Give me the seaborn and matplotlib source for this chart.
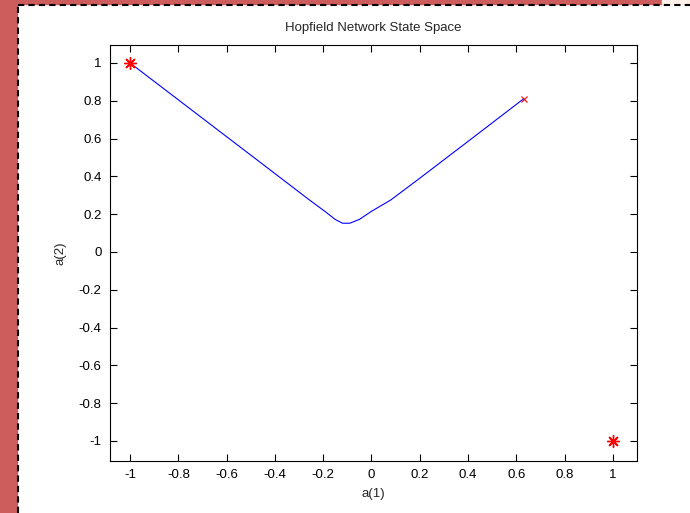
import matplotlib
matplotlib.use('Agg')
import matplotlib.pyplot as plt
import seaborn as sns
import pandas as pd
from matplotlib.patches import Rectangle
from matplotlib.lines import Line2D

# trajectory of the network state
traj_a1 = [-1.0, -0.8, -0.6, -0.4, -0.26, -0.19, -0.15, -0.12, -0.09, -0.05, 0.0, 0.08, 0.2, 0.4, 0.63]
traj_a2 = [1.0, 0.805, 0.61, 0.415, 0.278, 0.212, 0.172, 0.152, 0.152, 0.172, 0.215, 0.275, 0.39, 0.585, 0.81]

# stable points and end point
stable_a1 = [-1.0, 1.0]
stable_a2 = [1.0, -1.0]
end_a1 = [0.63]
end_a2 = [0.81]

ticks = [-1, -0.8, -0.6, -0.4, -0.2, 0, 0.2, 0.4, 0.6, 0.8, 1]
tick_labels = ['-1', '-0.8', '-0.6', '-0.4', '-0.2', '0', '0.2', '0.4', '0.6', '0.8', '1']

sns.set_style('white')
plt.rcParams['font.family'] = ['Liberation Sans', 'DejaVu Sans']

df = pd.DataFrame({'a1': traj_a1, 'a2': traj_a2})

fig = plt.figure(figsize=(6.9, 5.13), dpi=100)
ax = fig.add_axes([110 / 690, 1 - 461 / 513, 527 / 690, 416 / 513])

sns.lineplot(data=df, x='a1', y='a2', sort=False, color='#0000ff', linewidth=0.8, ax=ax)
ax.plot(stable_a1, stable_a2, linestyle='none', marker=(8, 2, 0), color='red', markersize=9, markeredgewidth=1.0)
ax.plot(end_a1, end_a2, linestyle='none', marker='x', color='red', markersize=5, markeredgewidth=0.8)

ax.set_xlim(-1.083, 1.1)
ax.set_ylim(-1.106, 1.095)
ax.set_xticks(ticks)
ax.set_xticklabels(tick_labels)
ax.set_yticks(ticks)
ax.set_yticklabels(tick_labels)
ax.tick_params(direction='in', length=5, width=0.8, top=True, right=True,
               bottom=True, left=True, labelsize=9.5, colors='black', pad=6)
for s in ax.spines.values():
    s.set_color('black')
    s.set_linewidth(0.8)

ax.set_title('Hopfield Network State Space', fontsize=9.5, pad=10)
ax.set_xlabel('a(1)', fontsize=9.5, labelpad=5)
ax.set_ylabel('a(2)', fontsize=9.5, labelpad=9)

# screenshot frame decoration
red = '#cd5c5c'
fig.patches.append(Rectangle((0, 0), 17 / 690, 1, transform=fig.transFigure, color=red, zorder=0))
fig.patches.append(Rectangle((0, 1 - 4 / 513), 662 / 690, 4 / 513, transform=fig.transFigure, color=red, zorder=0))
fig.patches.append(Rectangle((662 / 690, 1 - 4 / 513), 28 / 690, 4 / 513, transform=fig.transFigure, color='#fdf0e8', zorder=0))
fig.lines.append(Line2D([18 / 690, 18 / 690], [0, 1 - 5 / 513], transform=fig.transFigure,
                        color='black', linestyle=(0, (3, 2)), linewidth=1.5))
fig.lines.append(Line2D([18 / 690, 1], [1 - 5 / 513, 1 - 5 / 513], transform=fig.transFigure,
                        color='black', linestyle=(0, (3, 2)), linewidth=1.5))

fig.savefig('out.png', dpi=100)
